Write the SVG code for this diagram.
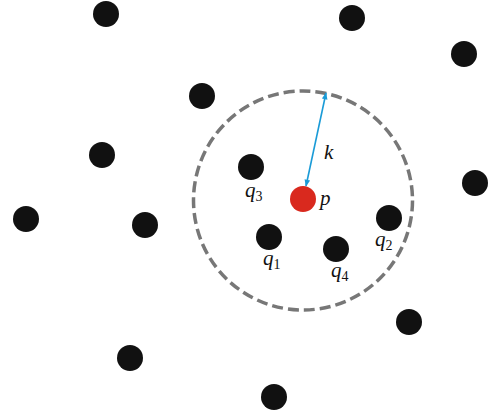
<svg xmlns="http://www.w3.org/2000/svg" width="491" height="415" viewBox="0 0 491 415">
<defs>
<marker id="ah" viewBox="0 0 10 10" refX="9" refY="5" markerWidth="8" markerHeight="7" orient="auto-start-reverse" markerUnits="userSpaceOnUse"><path d="M0,1 L10,5 L0,9 Z" fill="#1a9bd7"/></marker>
</defs>
<style>
.pt{fill:#111}
.lbl{font-family:"Liberation Serif","Times New Roman",serif;font-style:italic;font-size:21px;fill:#111}
.sub{font-style:normal;font-size:14px}
</style>
<rect width="491" height="415" fill="#fff"/>
<g id="range"><circle cx="303" cy="200.5" r="109.5" fill="none" stroke="#777" stroke-width="3.5" stroke-dasharray="11,5"/></g>
<g id="connectors"><line x1="306" y1="186" x2="326" y2="93" stroke="#1a9bd7" stroke-width="1.6" marker-start="url(#ah)" marker-end="url(#ah)"/></g>
<g id="n1"><circle class="pt" cx="106" cy="14" r="13"/></g>
<g id="n2"><circle class="pt" cx="352" cy="18" r="13"/></g>
<g id="n3"><circle class="pt" cx="464" cy="54" r="13"/></g>
<g id="n4"><circle class="pt" cx="202" cy="96" r="13"/></g>
<g id="n5"><circle class="pt" cx="102" cy="155" r="13"/></g>
<g id="n6"><circle class="pt" cx="475" cy="183" r="13"/></g>
<g id="n7"><circle class="pt" cx="26" cy="219" r="13"/></g>
<g id="n8"><circle class="pt" cx="145" cy="225" r="13"/></g>
<g id="n9"><circle class="pt" cx="409" cy="322" r="13"/></g>
<g id="n10"><circle class="pt" cx="130" cy="358" r="13"/></g>
<g id="n11"><circle class="pt" cx="274" cy="397" r="13"/></g>
<g id="q3"><circle class="pt" cx="251" cy="167" r="13"/><text class="lbl" x="245" y="197">q<tspan class="sub" dy="4">3</tspan></text></g>
<g id="q1"><circle class="pt" cx="269" cy="237" r="13"/><text class="lbl" x="263" y="265">q<tspan class="sub" dy="4">1</tspan></text></g>
<g id="q4"><circle class="pt" cx="336" cy="249" r="13"/><text class="lbl" x="331" y="277">q<tspan class="sub" dy="4">4</tspan></text></g>
<g id="q2"><circle class="pt" cx="389" cy="218" r="13"/><text class="lbl" x="375" y="246">q<tspan class="sub" dy="4">2</tspan></text></g>
<g id="p"><circle cx="303" cy="199" r="13" fill="#d9291e"/><text class="lbl" x="320" y="205">p</text></g>
<g id="klabel"><text class="lbl" x="324" y="159">k</text></g>
</svg>
